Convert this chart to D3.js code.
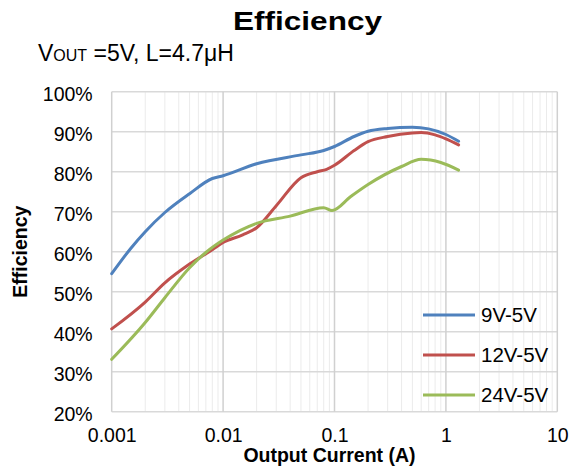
<!DOCTYPE html>
<html>
<head>
<meta charset="utf-8">
<script src="https://cdn.jsdelivr.net/npm/d3@7"></script>
<style>
  body { margin: 0; background: #fff; }
  svg text { font-family: "Liberation Sans", Arial, sans-serif; fill: #000; }
</style>
</head>
<body>
<div id="chart"></div>
<script>
const width = 573;
const height = 476;

// output current (A) for each series
const current9 = [0.001, 0.0015, 0.002, 0.003, 0.005, 0.008, 0.01, 0.02, 0.05, 0.08, 0.1, 0.15, 0.2, 0.3, 0.5, 0.7, 1, 1.3];
const eff9 = [54.5, 61, 65, 69.8, 74.5, 78.3, 79, 82, 84.2, 85.3, 86.3, 88.8, 90.1, 90.8, 91.1, 90.7, 89.3, 87.6];

const current12 = [0.001, 0.002, 0.003, 0.005, 0.008, 0.01, 0.015, 0.02, 0.03, 0.05, 0.07, 0.085, 0.1, 0.15, 0.2, 0.3, 0.5, 0.6, 0.8, 1, 1.3];
const eff12 = [40.7, 47.4, 52.2, 56.9, 60.5, 62.3, 64.2, 66, 71.5, 78.5, 80, 80.6, 81.6, 85.3, 87.5, 88.8, 89.7, 89.8, 89.2, 88.2, 86.7];

const current24 = [0.001, 0.002, 0.003, 0.005, 0.007, 0.01, 0.02, 0.04, 0.08, 0.095, 0.14, 0.2, 0.4, 0.6, 0.9, 1.3];
const eff24 = [33.1, 42.3, 48.5, 56, 59.8, 62.9, 67.1, 68.9, 71, 70.3, 73.8, 76.8, 81.3, 83.1, 82.3, 80.4];

const seriesNames = ["9V-5V", "12V-5V", "24V-5V"];
const seriesColors = ["#4F81BD", "#C0504D", "#9BBB59"];

const xTicks = [0.001, 0.01, 0.1, 1, 10];
const xTickLabels = ["0.001", "0.01", "0.1", "1", "10"];
const yTicks = [20, 30, 40, 50, 60, 70, 80, 90, 100];

const series = [
  { name: seriesNames[0], color: seriesColors[0], values: current9.map((c, i) => [c, eff9[i]]) },
  { name: seriesNames[1], color: seriesColors[1], values: current12.map((c, i) => [c, eff12[i]]) },
  { name: seriesNames[2], color: seriesColors[2], values: current24.map((c, i) => [c, eff24[i]]) },
];

const plot = { left: 111.7, right: 557.3, top: 91.7, bottom: 411.7 };

const svg = d3
  .select("#chart")
  .append("svg")
  .attr("width", width)
  .attr("height", height);

const xScale = d3.scaleLog().domain([0.001, 10]).range([plot.left, plot.right]);
const yScale = d3.scaleLinear().domain([20, 100]).range([plot.bottom, plot.top]);

// minor vertical grid (2..9 in each decade)
const minorTicks = [];
for (let d = 0.001; d < 10; d *= 10) {
  for (let k = 2; k <= 9; k++) minorTicks.push(d * k);
}
svg
  .append("g")
  .selectAll("line")
  .data(minorTicks)
  .enter()
  .append("line")
  .attr("x1", d => xScale(d))
  .attr("x2", d => xScale(d))
  .attr("y1", plot.top)
  .attr("y2", plot.bottom)
  .attr("stroke", "#EBEBEB")
  .attr("stroke-width", 1);

// horizontal grid
svg
  .append("g")
  .selectAll("line")
  .data(yTicks)
  .enter()
  .append("line")
  .attr("x1", plot.left)
  .attr("x2", plot.right)
  .attr("y1", d => yScale(d))
  .attr("y2", d => yScale(d))
  .attr("stroke", "#D9D9D9")
  .attr("stroke-width", 1.5);

// major vertical grid
svg
  .append("g")
  .selectAll("line")
  .data(xTicks)
  .enter()
  .append("line")
  .attr("x1", d => xScale(d))
  .attr("x2", d => xScale(d))
  .attr("y1", plot.top)
  .attr("y2", plot.bottom)
  .attr("stroke", "#D0D0D0")
  .attr("stroke-width", 1.5);

// axes, labels only
const yAxis = d3.axisLeft(yScale).tickValues(yTicks).tickSize(0).tickPadding(19).tickFormat(d => d + "%");
svg
  .append("g")
  .attr("transform", `translate(${plot.left},0)`)
  .call(yAxis)
  .call(g => g.select(".domain").remove())
  .selectAll("text")
  .attr("dy", "0.46em")
  .style("font-size", "19.5px")
  .style("font-family", '"Liberation Sans", Arial, sans-serif');

const xAxis = d3.axisBottom(xScale).tickValues(xTicks).tickSize(0).tickPadding(16.5).tickFormat((d, i) => xTickLabels[i]);
svg
  .append("g")
  .attr("transform", `translate(0,${plot.bottom})`)
  .call(xAxis)
  .call(g => g.select(".domain").remove())
  .selectAll("text")
  .style("font-size", "19.5px")
  .style("font-family", '"Liberation Sans", Arial, sans-serif');

// lines
const line = d3
  .line()
  .x(d => xScale(d[0]))
  .y(d => yScale(d[1]))
  .curve(d3.curveMonotoneX);

svg
  .append("g")
  .selectAll("path")
  .data(series)
  .enter()
  .append("path")
  .attr("d", d => line(d.values))
  .attr("fill", "none")
  .attr("stroke", d => d.color)
  .attr("stroke-width", 3)
  .attr("stroke-linejoin", "round")
  .attr("stroke-linecap", "round");

// legend
const legend = svg
  .append("g")
  .selectAll("g")
  .data(series)
  .enter()
  .append("g")
  .attr("transform", (d, i) => `translate(423,${315 + i * 40})`);
legend
  .append("line")
  .attr("x1", 0)
  .attr("x2", 52)
  .attr("stroke", d => d.color)
  .attr("stroke-width", 3);
legend
  .append("text")
  .attr("x", 58)
  .attr("y", 7.4)
  .style("font-size", "20.5px")
  .text(d => d.name);

// titles
svg
  .append("text")
  .attr("x", 307.5)
  .attr("y", 29.5)
  .attr("text-anchor", "middle")
  .attr("textLength", 149)
  .attr("lengthAdjust", "spacingAndGlyphs")
  .style("font-size", "26px")
  .style("font-weight", "bold")
  .text("Efficiency");

const sub = svg.append("text").attr("x", 38).attr("y", 61).style("font-size", "23px");
sub.append("tspan").text("V");
sub.append("tspan").style("font-size", "16px").text("OUT");
sub.append("tspan").text(" =5V, L=4.7μH");

svg
  .append("text")
  .attr("x", (plot.left + plot.right) / 2 - 5)
  .attr("y", 461.5)
  .attr("text-anchor", "middle")
  .style("font-size", "19.5px")
  .style("font-weight", "bold")
  .text("Output Current (A)");

svg
  .append("text")
  .attr("transform", `translate(27,${(plot.top + plot.bottom) / 2}) rotate(-90)`)
  .attr("text-anchor", "middle")
  .style("font-size", "19.5px")
  .style("font-weight", "bold")
  .text("Efficiency");
</script>
</body>
</html>
